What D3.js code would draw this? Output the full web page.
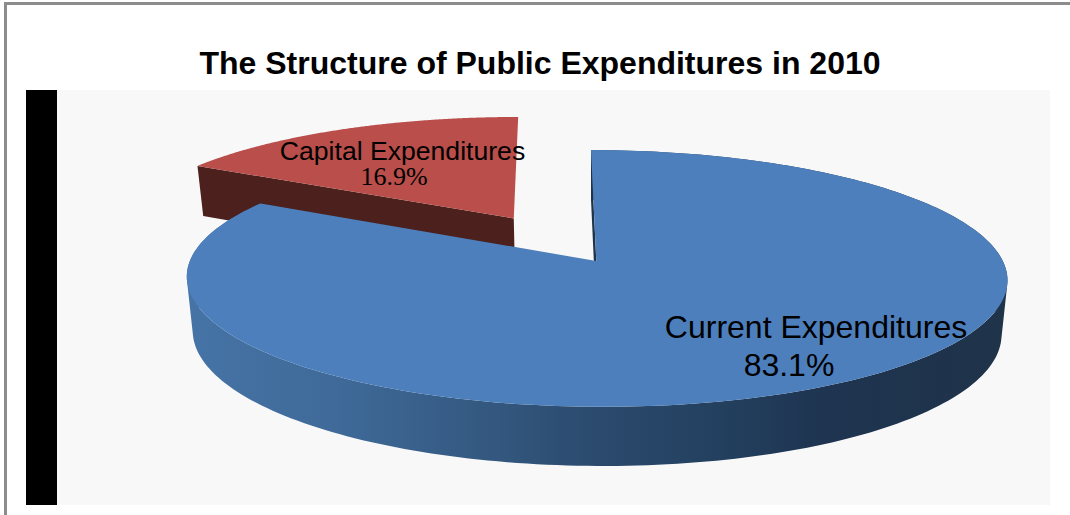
<!DOCTYPE html>
<html>
<head>
<meta charset="utf-8">
<title>The Structure of Public Expenditures in 2010</title>
<script src="https://cdn.jsdelivr.net/npm/d3@7"></script>
<style>
  html, body { margin: 0; padding: 0; background: #fff; }
  svg { display: block; }
  text { fill: #000; }
</style>
</head>
<body>
<svg id="chart" width="1070" height="515"></svg>
<script>
// Chart content
const chartTitle = "The Structure of Public Expenditures in 2010";
const categories = ["Current Expenditures", "Capital Expenditures"];
const shares = [83.1, 16.9];
const percentLabels = ["83.1%", "16.9%"];

// Colours
const topColors = ["#4d7fbc", "#b94e4b"];
const capitalWallColor = "#4b201d";
const wallStops = [
  [0.00, "#4674a6"], [0.18, "#3f6a99"], [0.38, "#33577e"], [0.50, "#2b4a6d"],
  [0.65, "#23405f"], [0.78, "#1e3450"], [1.00, "#1f3349"]
];

const svg = d3.select("#chart");
const W = 1070, H = 515;

// Page furniture: frame, plot panel and the black strip at its left
svg.append("rect").attr("x", 5.5).attr("y", 3.5).attr("width", W + 10).attr("height", H + 10)
  .attr("fill", "#fff").attr("stroke", "#8c8c8c").attr("stroke-width", 3);
svg.append("rect").attr("x", 57).attr("y", 90).attr("width", 993).attr("height", 415).attr("fill", "#f8f8f8");
svg.append("rect").attr("x", 26).attr("y", 90).attr("width", 31).attr("height", 415).attr("fill", "#000");

svg.append("text").attr("x", 540).attr("y", 74)
  .attr("text-anchor", "middle")
  .style("font", "bold 32px 'Liberation Sans', Arial, sans-serif")
  .text(chartTitle);

// Perspective projection of the pie's unit disc onto the page.
const tilt = 0.136;
const skew = -6;
const topPlane = { cx: 596.3, cy: 261, rx: 406.5, ry: 126 };
const basePlane = { cx: 596.3, cy: 314.7, rx: 400.6, ry: 130.7 };
const project = (plane, u, v) => {
  const w = 1 + tilt * v;
  return [plane.cx + (plane.rx * u + skew * v) / w, plane.cy - plane.ry * v / w];
};

const explode = 0.41;
const arcs = d3.pie().sort(null)(shares);
const line = d3.line();

// Rim of a slice as unit-disc points; an exploded slice is moved along its bisector.
function sliceGeometry(arc, shift) {
  const mid = (arc.startAngle + arc.endAngle) / 2;
  const ou = shift * Math.sin(mid), ov = shift * Math.cos(mid);
  const rim = d3.range(0, 241).map(i => {
    const a = arc.startAngle + (arc.endAngle - arc.startAngle) * i / 240;
    return [ou + Math.sin(a), ov + Math.cos(a)];
  });
  return { rim, apex: [ou, ov] };
}
const onPlane = (plane, pts) => pts.map(p => project(plane, p[0], p[1]));

// Side wall swept between the two planes, as same-facing quads in one path.
function sweptWall(rim) {
  const top = onPlane(topPlane, rim), base = onPlane(basePlane, rim);
  return d3.range(rim.length - 1).map(i => {
    const quad = [top[i], top[i + 1], base[i + 1], base[i]];
    if (d3.polygonArea(quad) < 0) quad.reverse();
    return line(quad) + "Z";
  }).join("");
}

const defs = svg.append("defs");
const grad = defs.append("linearGradient").attr("id", "wallShade")
  .attr("gradientUnits", "userSpaceOnUse")
  .attr("x1", 186).attr("x2", 1007).attr("y1", 0).attr("y2", 0);
wallStops.forEach(s => grad.append("stop").attr("offset", s[0]).attr("stop-color", s[1]));

const pie = svg.append("g");

// Capital Expenditures: cut wall, then top face
const capital = sliceGeometry(arcs[1], explode);
const tip = capital.rim[0];
pie.append("path")
  .attr("d", line([
    project(topPlane, tip[0], tip[1]), project(topPlane, ...capital.apex),
    project(basePlane, ...capital.apex), project(basePlane, tip[0], tip[1])
  ]) + "Z")
  .attr("fill", capitalWallColor);
pie.append("path")
  .attr("d", line([project(topPlane, ...capital.apex), ...onPlane(topPlane, capital.rim)]) + "Z")
  .attr("fill", topColors[1]);

// Current Expenditures: outer wall, thin cut wall, then top face
const current = sliceGeometry(arcs[0], 0);
pie.append("path")
  .attr("d", sweptWall(current.rim))
  .attr("fill", "url(#wallShade)");
const first = current.rim[0];
pie.append("path")
  .attr("d", line([
    project(topPlane, first[0], first[1]), project(topPlane, 0, 0),
    project(basePlane, 0, 0), project(basePlane, first[0], first[1])
  ]) + "Z")
  .attr("fill", "#1f3349");
pie.append("path")
  .attr("d", line([project(topPlane, 0, 0), ...onPlane(topPlane, current.rim)]) + "Z")
  .attr("fill", topColors[0]);

// Data labels
const sans = "'Liberation Sans', Arial, sans-serif";
const serif = "'Liberation Serif', 'Times New Roman', serif";
const labels = svg.append("g");
labels.append("text").attr("x", 816).attr("y", 338).attr("text-anchor", "middle")
  .style("font", `32px ${sans}`).text(categories[0]);
labels.append("text").attr("x", 789).attr("y", 376).attr("text-anchor", "middle")
  .style("font", `32px ${sans}`).text(percentLabels[0]);
labels.append("text").attr("x", 402.5).attr("y", 160).attr("text-anchor", "middle")
  .style("font", `26.6px ${sans}`).text(categories[1]);
labels.append("text").attr("x", 394).attr("y", 185).attr("text-anchor", "middle")
  .style("font", `26px ${serif}`).text(percentLabels[1]);
</script>
</body>
</html>
